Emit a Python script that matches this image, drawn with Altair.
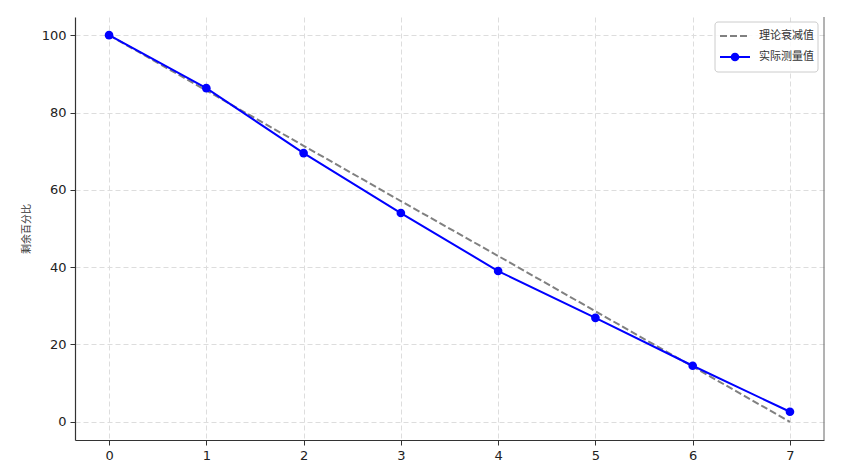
import altair as alt
import pandas as pd

# ---- data ----
steps = [0, 1, 2, 3, 4, 5, 6, 7]
actual = [100.0, 86.3, 69.5, 54.0, 39.0, 26.9, 14.5, 2.6]
theory = [100.0, 85.7, 71.4, 57.1, 42.9, 28.6, 14.3, 0.0]
x_ticks = [0, 1, 2, 3, 4, 5, 6, 7]
y_ticks = [0, 20, 40, 60, 80, 100]
label_theory = "理论衰减值"
label_actual = "实际测量值"
y_title = "剩余百分比"

W, H = 749, 423
FONT = "DejaVu Sans"
CJK = "Noto Sans CJK SC"

df = pd.DataFrame({"x": steps, "actual": actual, "theory": theory})
one = pd.DataFrame({"k": [0]})

xs = alt.Scale(domain=[-0.35, 7.35], nice=False, zero=False)
ys = alt.Scale(domain=[-4.7, 104.7], nice=False, zero=False)

x_axis = alt.Axis(values=x_ticks, title=None, grid=True, format="d")
y_axis = alt.Axis(values=y_ticks, title=y_title, grid=True, format="d",
                  titleFont=CJK, titleFontSize=10, titleFontWeight="normal",
                  titleColor="#333", titlePadding=10)

base = alt.Chart(df)

theory_line = base.mark_line(color="#808080", strokeWidth=2, strokeDash=[7, 3]).encode(
    x=alt.X("x:Q", scale=xs, axis=x_axis),
    y=alt.Y("theory:Q", scale=ys, axis=y_axis),
)
actual_line = base.mark_line(color="#0000ff", strokeWidth=2).encode(
    x=alt.X("x:Q", scale=xs),
    y=alt.Y("actual:Q", scale=ys),
)
actual_pts = base.mark_point(color="#0000ff", filled=True, opacity=1, size=75, shape="circle").encode(
    x=alt.X("x:Q", scale=xs),
    y=alt.Y("actual:Q", scale=ys),
)

right_spine = alt.Chart(one).mark_rule(color="#666", strokeWidth=1).encode(
    x=alt.value(W), y=alt.value(0), y2=alt.value(H)
)

# ---- legend (manual) ----
lg_box = alt.Chart(one).mark_rect(fill="white", fillOpacity=0.85, stroke="#cccccc",
                                  strokeWidth=1, cornerRadius=3).encode(
    x=alt.value(640), x2=alt.value(743), y=alt.value(5), y2=alt.value(55)
)
lg_dash = alt.Chart(one).mark_rule(color="#808080", strokeWidth=2, strokeDash=[7, 3]).encode(
    x=alt.value(645), x2=alt.value(675), y=alt.value(19)
)
lg_line = alt.Chart(one).mark_rule(color="#0000ff", strokeWidth=2).encode(
    x=alt.value(645), x2=alt.value(675), y=alt.value(40)
)
lg_dot = alt.Chart(one).mark_point(color="#0000ff", filled=True, opacity=1, size=75, shape="circle").encode(
    x=alt.value(660), y=alt.value(40)
)
lg_t1 = alt.Chart(one).mark_text(text=label_theory, font=CJK, fontSize=11, color="#333",
                                 align="left", baseline="middle").encode(
    x=alt.value(684), y=alt.value(19)
)
lg_t2 = alt.Chart(one).mark_text(text=label_actual, font=CJK, fontSize=11, color="#333",
                                 align="left", baseline="middle").encode(
    x=alt.value(684), y=alt.value(40)
)

chart = alt.layer(
    theory_line, actual_line, actual_pts, right_spine,
    lg_box, lg_dash, lg_line, lg_dot, lg_t1, lg_t2
).properties(
    width=W, height=H,
    autosize=alt.AutoSizeParams(type="none"),
    padding={"left": 67, "top": 9, "right": 16, "bottom": 24},
    background="white",
).configure_view(stroke=None).configure_axis(
    domainColor="#333", domainWidth=1.2,
    tickColor="#333", tickSize=5, tickWidth=1,
    labelFont=FONT, labelFontSize=13, labelColor="#222", labelPadding=4,
    gridColor="#dddddd", gridDash=[5, 3], gridWidth=1,
)

chart.save("out.html", embed_options={"renderer": "svg", "actions": False})
